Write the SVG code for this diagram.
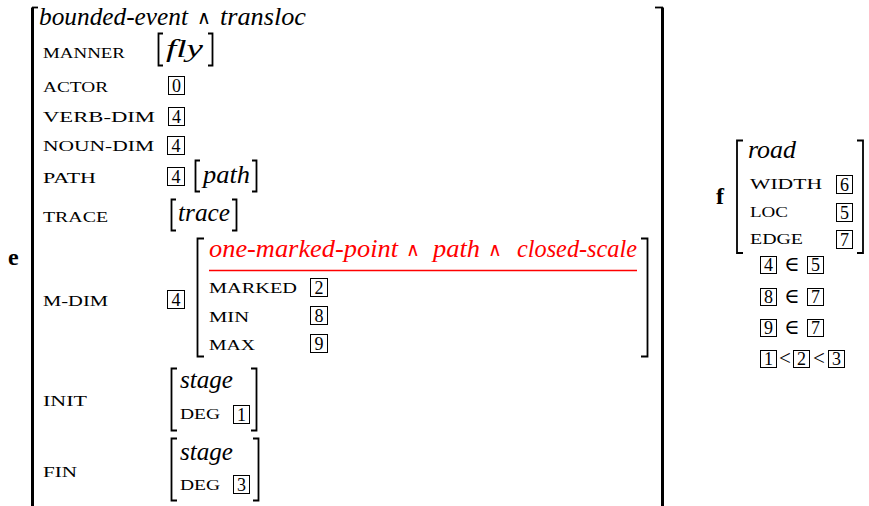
<svg xmlns="http://www.w3.org/2000/svg" width="869" height="506" viewBox="0 0 869 506" font-family="'Liberation Serif', 'DejaVu Serif', serif">
<style>
text{font-family:'Liberation Serif','DejaVu Serif',serif;fill:#000}
.it{font-style:italic;font-size:26px}
.sc{font-size:15px}
.num{font-size:18px;text-anchor:middle}
.op{font-size:21px;text-anchor:middle}
.lt{font-size:21px;text-anchor:middle}
.wedge{font-size:19px;text-anchor:middle}
.bold{font-weight:bold;font-size:24px}
.red{fill:#ff0000}
.bx{fill:none;stroke:#000;stroke-width:1}
.br{fill:none;stroke:#000;stroke-width:1.8}
.bigbr{fill:none;stroke:#000;stroke-width:3}
</style>
<rect width="869" height="506" fill="#fff"/>
<g id="avm-e" font-family="'Liberation Serif', serif">
  <text class="bold" x="8" y="265">e</text>
  <path class="bigbr" d="M32.5,506 V7.5"/>
  <path class="br" d="M32,7.5 H38"/>
  <path class="bigbr" d="M662.5,506 V7.5"/>
  <path class="br" d="M663,7.5 H655"/>
  <g id="type-e">
    <text class="it" x="39" y="25" textLength="149" lengthAdjust="spacingAndGlyphs">bounded-event</text>
    <text class="wedge" x="204" y="24">∧</text>
    <text class="it" x="220" y="25" textLength="86" lengthAdjust="spacingAndGlyphs">transloc</text>
  </g>
  <g id="manner">
    <text class="sc" x="43" y="58" textLength="82" lengthAdjust="spacingAndGlyphs">MANNER</text>
    <path class="br" d="M163,33.5 H158.5 V65.5 H163"/>
    <text class="it" x="166" y="57" textLength="37" lengthAdjust="spacingAndGlyphs">fly</text>
    <path class="br" d="M208,33.5 H212.5 V65.5 H208"/>
  </g>
  <g id="actor">
    <text class="sc" x="43" y="92" textLength="65" lengthAdjust="spacingAndGlyphs">ACTOR</text>
    <rect class="bx" x="168.5" y="76.5" width="16" height="18"/><text class="num" x="176.5" y="92">0</text>
  </g>
  <g id="verb-dim">
    <text class="sc" x="43" y="122" textLength="112" lengthAdjust="spacingAndGlyphs">VERB-DIM</text>
    <rect class="bx" x="168.5" y="107.5" width="16" height="18"/><text class="num" x="176.5" y="123">4</text>
  </g>
  <g id="noun-dim">
    <text class="sc" x="43" y="151" textLength="111" lengthAdjust="spacingAndGlyphs">NOUN-DIM</text>
    <rect class="bx" x="167.5" y="136.5" width="17" height="18"/><text class="num" x="176" y="152">4</text>
  </g>
  <g id="path">
    <text class="sc" x="43" y="183" textLength="53" lengthAdjust="spacingAndGlyphs">PATH</text>
    <rect class="bx" x="167.5" y="167.5" width="17" height="18"/><text class="num" x="176" y="183">4</text>
    <path class="br" d="M200,160.5 H195.5 V191.5 H200"/>
    <text class="it" x="203" y="183" textLength="47" lengthAdjust="spacingAndGlyphs">path</text>
    <path class="br" d="M252,160.5 H256.5 V191.5 H252"/>
  </g>
  <g id="trace">
    <text class="sc" x="43" y="222" textLength="65" lengthAdjust="spacingAndGlyphs">TRACE</text>
    <path class="br" d="M176,199.5 H171.5 V230.5 H176"/>
    <text class="it" x="178" y="221" textLength="52" lengthAdjust="spacingAndGlyphs">trace</text>
    <path class="br" d="M232,199.5 H236.5 V230.5 H232"/>
  </g>
  <g id="m-dim">
    <text class="sc" x="43" y="306" textLength="65" lengthAdjust="spacingAndGlyphs">M-DIM</text>
    <rect class="bx" x="167.5" y="290.5" width="17" height="18"/><text class="num" x="176" y="306">4</text>
    <path class="br" d="M204,238.5 H197.5 V356.5 H204"/>
    <path class="br" d="M641,238.5 H647.5 V356.5 H641"/>
    <text class="it red" x="209" y="257" textLength="189" lengthAdjust="spacingAndGlyphs">one-marked-point</text>
    <text class="wedge red" x="413" y="256">∧</text>
    <text class="it red" x="433" y="257" textLength="47" lengthAdjust="spacingAndGlyphs">path</text>
    <text class="wedge red" x="495" y="256">∧</text>
    <text class="it red" x="517" y="257" textLength="120" lengthAdjust="spacingAndGlyphs">closed-scale</text>
    <line x1="209" y1="270.5" x2="637" y2="270.5" stroke="#ff0000" stroke-width="1.6"/>
    <text class="sc" x="209" y="293" textLength="88" lengthAdjust="spacingAndGlyphs">MARKED</text>
    <rect class="bx" x="310.5" y="278.5" width="17" height="18"/><text class="num" x="319" y="294">2</text>
    <text class="sc" x="209" y="322" textLength="40" lengthAdjust="spacingAndGlyphs">MIN</text>
    <rect class="bx" x="310.5" y="306.5" width="17" height="18"/><text class="num" x="319" y="322">8</text>
    <text class="sc" x="209" y="350" textLength="46" lengthAdjust="spacingAndGlyphs">MAX</text>
    <rect class="bx" x="310.5" y="334.5" width="17" height="18"/><text class="num" x="319" y="350">9</text>
  </g>
  <g id="init">
    <text class="sc" x="43" y="406" textLength="44" lengthAdjust="spacingAndGlyphs">INIT</text>
    <path class="br" d="M177,368.5 H171.5 V430.5 H177"/>
    <text class="it" x="180" y="388" textLength="53" lengthAdjust="spacingAndGlyphs">stage</text>
    <text class="sc" x="180" y="419" textLength="40" lengthAdjust="spacingAndGlyphs">DEG</text>
    <rect class="bx" x="233.5" y="405.5" width="16" height="18"/><text class="num" x="241.5" y="421">1</text>
    <path class="br" d="M251,368.5 H256.5 V430.5 H251"/>
  </g>
  <g id="fin">
    <text class="sc" x="43" y="477" textLength="34" lengthAdjust="spacingAndGlyphs">FIN</text>
    <path class="br" d="M177,438.5 H171.5 V500.5 H177"/>
    <text class="it" x="180" y="460" textLength="53" lengthAdjust="spacingAndGlyphs">stage</text>
    <text class="sc" x="180" y="490" textLength="40" lengthAdjust="spacingAndGlyphs">DEG</text>
    <rect class="bx" x="233.5" y="475.5" width="16" height="18"/><text class="num" x="241.5" y="491">3</text>
    <path class="br" d="M253,438.5 H258.5 V500.5 H253"/>
  </g>
</g>
<g id="avm-f" font-family="'Liberation Serif', serif">
  <text class="bold" x="716" y="204">f</text>
  <path class="br" d="M743,140.5 H737 V253 H743"/>
  <path class="br" d="M857,140.5 H863 V253 H857"/>
  <text class="it" x="748" y="158" textLength="48" lengthAdjust="spacingAndGlyphs">road</text>
  <text class="sc" x="750" y="189" textLength="72" lengthAdjust="spacingAndGlyphs">WIDTH</text>
  <rect class="bx" x="836.5" y="175.5" width="16" height="18"/><text class="num" x="844.5" y="191">6</text>
  <text class="sc" x="750" y="217" textLength="38" lengthAdjust="spacingAndGlyphs">LOC</text>
  <rect class="bx" x="836.5" y="203.5" width="16" height="18"/><text class="num" x="844.5" y="219">5</text>
  <text class="sc" x="750" y="244" textLength="53" lengthAdjust="spacingAndGlyphs">EDGE</text>
  <rect class="bx" x="836.5" y="230.5" width="16" height="18"/><text class="num" x="844.5" y="246">7</text>
</g>
<g id="constraints" font-family="'Liberation Serif', serif">
  <g id="c1">
    <rect class="bx" x="760.5" y="256.5" width="16" height="17"/><text class="num" x="768.5" y="271">4</text>
    <text class="op" x="792" y="271">∈</text>
    <rect class="bx" x="807.5" y="256.5" width="16" height="17"/><text class="num" x="815.5" y="271">5</text>
  </g>
  <g id="c2">
    <rect class="bx" x="760.5" y="288.5" width="16" height="17"/><text class="num" x="768.5" y="303">8</text>
    <text class="op" x="792" y="303">∈</text>
    <rect class="bx" x="807.5" y="288.5" width="16" height="17"/><text class="num" x="815.5" y="303">7</text>
  </g>
  <g id="c3">
    <rect class="bx" x="760.5" y="319.5" width="16" height="17"/><text class="num" x="768.5" y="334">9</text>
    <text class="op" x="792" y="334">∈</text>
    <rect class="bx" x="807.5" y="319.5" width="16" height="17"/><text class="num" x="815.5" y="334">7</text>
  </g>
  <g id="c4">
    <rect class="bx" x="760.5" y="350.5" width="16" height="17"/><text class="num" x="768.5" y="365">1</text>
    <text class="lt" x="785" y="365">&lt;</text>
    <rect class="bx" x="793.5" y="350.5" width="16" height="17"/><text class="num" x="801.5" y="365">2</text>
    <text class="lt" x="819" y="365">&lt;</text>
    <rect class="bx" x="828.5" y="350.5" width="16" height="17"/><text class="num" x="836.5" y="365">3</text>
  </g>
</g>
</svg>
